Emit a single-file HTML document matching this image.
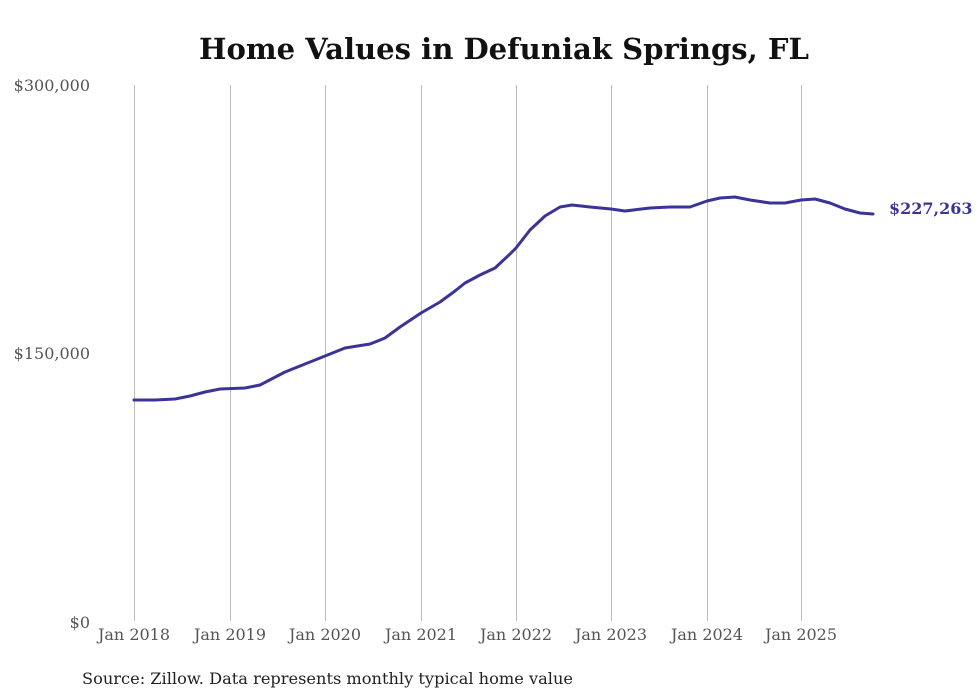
<!DOCTYPE html>
<html><head><style>
html,body{margin:0;padding:0;background:#fff;}
svg{display:block;font-family:"DejaVu Serif","Liberation Serif",serif;}
</style></head><body>
<svg width="980" height="699" viewBox="0 0 980 699" xmlns="http://www.w3.org/2000/svg">
<rect width="980" height="699" fill="#fff"/>
<text x="504" y="59" text-anchor="middle" font-size="29" font-weight="bold" fill="#111" textLength="610" lengthAdjust="spacingAndGlyphs">Home Values in Defuniak Springs, FL</text>
<g stroke="#bdbdbd" stroke-width="1">
<line x1="134.5" y1="85" x2="134.5" y2="621"/>
<line x1="230.5" y1="85" x2="230.5" y2="621"/>
<line x1="325.5" y1="85" x2="325.5" y2="621"/>
<line x1="421.5" y1="85" x2="421.5" y2="621"/>
<line x1="516.5" y1="85" x2="516.5" y2="621"/>
<line x1="611.5" y1="85" x2="611.5" y2="621"/>
<line x1="707.5" y1="85" x2="707.5" y2="621"/>
<line x1="801.5" y1="85" x2="801.5" y2="621"/>
</g>
<g font-size="16" fill="#555">
<text x="90" y="91" text-anchor="end">$300,000</text>
<text x="90" y="359" text-anchor="end">$150,000</text>
<text x="90" y="628" text-anchor="end">$0</text>
<g text-anchor="middle">
<text x="134" y="640">Jan 2018</text>
<text x="230" y="640">Jan 2019</text>
<text x="325" y="640">Jan 2020</text>
<text x="421" y="640">Jan 2021</text>
<text x="516" y="640">Jan 2022</text>
<text x="611" y="640">Jan 2023</text>
<text x="707" y="640">Jan 2024</text>
<text x="801" y="640">Jan 2025</text>
</g>
</g>
<polyline fill="none" stroke="#3a3497" stroke-width="3" stroke-linejoin="round" stroke-linecap="round"
points="134,400 155,400 175,399 190,396 205,392 220,389 245,388 260,385 285,372 300,366 325,356 345,348 370,344 385,338 400,327 421,313 440,302 455,291 465,283 480,275 495,268 510,254 516,248 530,230 545,216 560,207 572,205 590,207 611,209 625,211 650,208 670,207 690,207 707,201 720,198 735,197 750,200 770,203 785,203 801,200 815,199 830,203 845,209 860,213 873,214"/>
<text x="889" y="214" font-size="16" font-weight="bold" fill="#3a3497">$227,263</text>
<text x="82" y="684" font-size="16" fill="#222" textLength="491" lengthAdjust="spacingAndGlyphs">Source: Zillow. Data represents monthly typical home value</text>
</svg>
</body></html>
